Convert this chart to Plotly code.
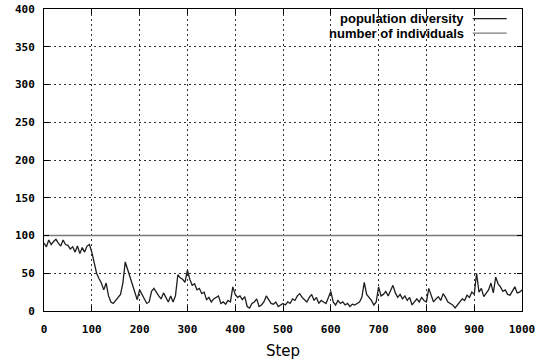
import plotly.graph_objects as go

steps = list(range(0, 1001, 5))
diversity = [
    90, 85, 94, 88, 92, 95, 90, 86, 94, 88, 87, 82, 85, 78, 86, 76, 84, 78, 86, 88,
    78, 62, 50, 43, 37, 28, 37, 20, 12, 10, 14, 17, 22, 37, 65, 55, 45, 32, 24, 15,
    28, 22, 14, 10, 12, 26, 30, 24, 20, 16, 24, 18, 12, 20, 12, 20, 48, 44, 42, 38,
    54, 42, 34, 36, 28, 30, 23, 25, 15, 18, 12, 16, 18, 20, 10, 12, 9, 14, 12, 32,
    22, 18, 20, 15, 19, 6, 4, 10, 12, 16, 6, 8, 12, 20, 15, 10, 9, 12, 6, 8,
    10, 8, 12, 10, 16, 14, 20, 23, 18, 15, 12, 18, 22, 14, 18, 10, 14, 12, 10, 18,
    26, 12, 8, 14, 10, 12, 8, 10, 6, 9, 8, 10, 12, 18, 38, 22, 18, 14, 8, 12,
    32, 20, 22, 26, 20, 28, 34, 24, 18, 22, 16, 20, 14, 18, 8, 12, 16, 12, 18, 14,
    12, 30, 20, 12, 16, 19, 14, 23, 18, 12, 10, 8, 4, 8, 12, 16, 14, 21, 18, 25,
    22, 50, 25, 30, 19, 24, 28, 37, 24, 45, 36, 32, 26, 28, 22, 21, 26, 32, 24, 25,
    28,
]
individuals = [100 for _ in steps]

x_ticks = [0, 100, 200, 300, 400, 500, 600, 700, 800, 900, 1000]
y_ticks = [0, 50, 100, 150, 200, 250, 300, 350, 400]
legend_names = ["population diversity", "number of individuals"]
colors = ["#1e1e1e", "#7a7a7a"]

fig = go.Figure()
fig.add_trace(go.Scatter(x=steps, y=individuals, mode="lines", name=legend_names[1],
                         line=dict(color=colors[1], width=1.3)))
fig.add_trace(go.Scatter(x=steps, y=diversity, mode="lines", name=legend_names[0],
                         line=dict(color=colors[0], width=1.3)))

tickfont = dict(family="DejaVu Sans Mono", size=11, color="#000000")
axis_common = dict(showgrid=True, gridcolor="#333333", griddash="2px,3px", gridwidth=1,
                   showline=True, linecolor="#000000", linewidth=1, mirror="ticks",
                   ticks="inside", ticklen=5, tickcolor="#000000", zeroline=False,
                   tickfont=tickfont, automargin=False)

fig.update_xaxes(range=[0, 1000], tickvals=x_ticks,
                 ticktext=["<b>%d</b>" % v for v in x_ticks], ticklabelstandoff=8,
                 title=dict(text="Step", font=dict(family="DejaVu Sans", size=15, color="#000"),
                            standoff=10), **axis_common)
fig.update_yaxes(range=[0, 400], tickvals=y_ticks,
                 ticktext=["<b>%d</b>" % v for v in y_ticks], ticklabelstandoff=6,
                 **axis_common)

# gnuplot-style key: text right-aligned, sample line on the right
key_y = [0.968, 0.920]
for name, col, yy in zip(legend_names, colors, key_y):
    fig.add_annotation(xref="paper", yref="paper", x=0.881, y=yy, text="<b>" + name + "</b>",
                       showarrow=False, xanchor="right", yanchor="middle", borderpad=0,
                       font=dict(family="Liberation Sans", size=13, color="#000"))
    fig.add_shape(type="line", xref="paper", yref="paper", x0=0.897, x1=0.968, y0=yy, y1=yy,
                  line=dict(color=col, width=1.2))

fig.update_layout(width=539, height=360, margin=dict(l=44, r=17, t=9, b=49),
                  paper_bgcolor="#ffffff", plot_bgcolor="#ffffff", showlegend=False,
                  font=dict(family="DejaVu Sans Mono", size=11, color="#000"))

fig.write_html("out.html")
